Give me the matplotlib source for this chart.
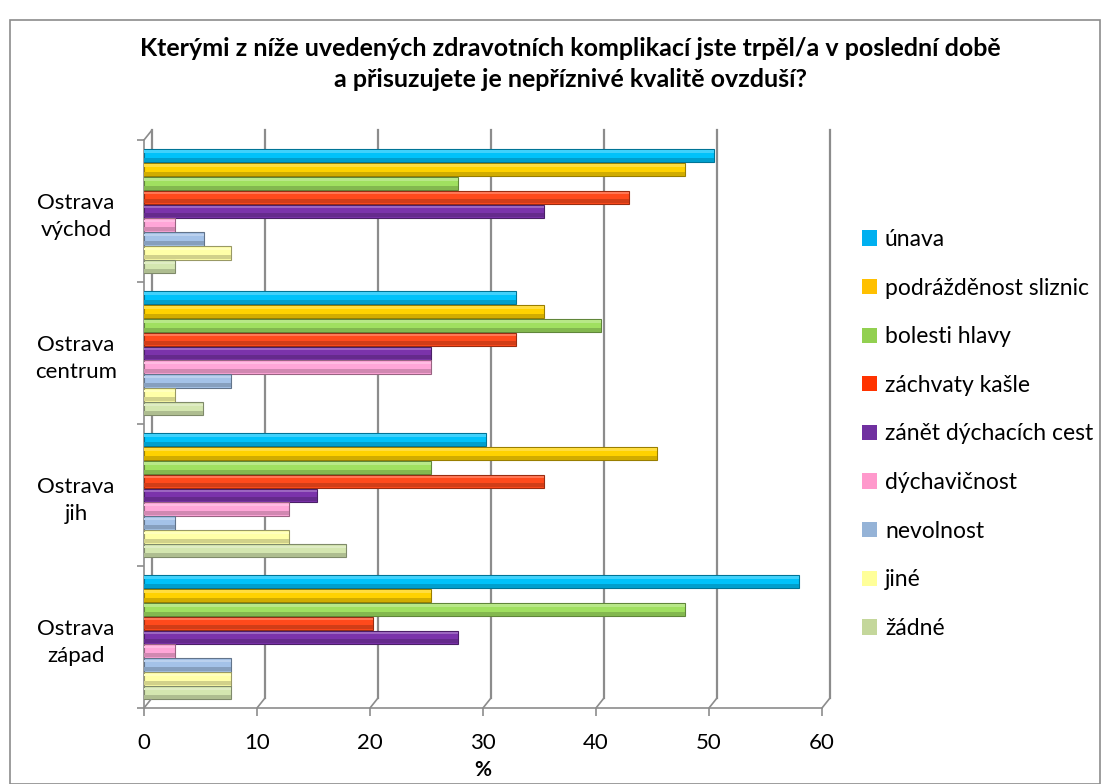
import matplotlib
matplotlib.use("Agg")
import matplotlib.pyplot as plt
import matplotlib.transforms as mtransforms
import numpy as np
from matplotlib.patches import Patch, Rectangle
import matplotlib.colors as mcolors

plt.rcParams['font.family'] = ['Lato', 'DejaVu Sans']

title = "Kterými z níže uvedených zdravotních komplikací jste trpěl/a v poslední době\na přisuzujete je nepříznivé kvalitě ovzduší?"
categories = ["Ostrava\nvýchod", "Ostrava\ncentrum", "Ostrava\njih", "Ostrava\nzápad"]
series = ["únava", "podrážděnost sliznic", "bolesti hlavy", "záchvaty kašle",
          "zánět dýchacích cest", "dýchavičnost", "nevolnost", "jiné", "žádné"]
values = {
    "únava":                [50.4, 32.9, 30.3, 58.0],
    "podrážděnost sliznic": [47.9, 35.4, 45.4, 25.4],
    "bolesti hlavy":        [27.8, 40.4, 25.4, 47.9],
    "záchvaty kašle":       [42.9, 32.9, 35.4, 20.3],
    "zánět dýchacích cest": [35.4, 25.4, 15.3, 27.8],
    "dýchavičnost":         [2.7, 25.4, 12.8, 2.7],
    "nevolnost":            [5.3, 7.7, 2.7, 7.7],
    "jiné":                 [7.7, 2.7, 12.8, 7.7],
    "žádné":                [2.7, 5.2, 17.9, 7.7],
}
bar_colors = ["#00C2FA", "#FFD200", "#A0E060", "#FF4A1C", "#7B33AB",
              "#FFA6D8", "#A4C2E8", "#FFFFA8", "#D4E6B0"]
legend_colors = ["#00B0F0", "#FFC000", "#92D050", "#FF3300", "#7030A0",
                 "#FF99CC", "#95B3D7", "#FFFF99", "#C4D79B"]
xticks = [0, 10, 20, 30, 40, 50, 60]

GRID = "#8C8C8C"
W, H = 1109, 784
fig = plt.figure(figsize=(W / 100, H / 100), dpi=100)
fig.patches.append(Rectangle((10 / W, 0), 1090 / W, 1 - 20 / H, transform=fig.transFigure,
                             fill=False, edgecolor=GRID, linewidth=1.2))

ax = fig.add_axes([144 / W, 1 - 708 / H, (822 - 144) / W, (708 - 140) / H])
slot = 0.098
pos = np.arange(len(categories))
for i, (s, c) in enumerate(zip(series, bar_colors)):
    y = pos - 0.5 + 0.06 + slot * (i + 0.5)
    h = slot * 0.95
    rgb = np.array(mcolors.to_rgb(c))
    edge = rgb * 0.6
    ax.barh(y, values[s], height=h, color=c, edgecolor=edge, linewidth=0.8,
            label=s, zorder=3)
    ax.barh(y + h * 0.32, values[s], height=h * 0.3, color=rgb * 0.82,
            edgecolor="none", zorder=4)
    ax.barh(y - h * 0.3, values[s], height=h * 0.18,
            color=np.clip(rgb + (1 - rgb) * 0.25, 0, 1), edgecolor="none", zorder=4)

ax.set_xlim(0, 60)
ax.set_ylim(len(categories) - 0.5, -0.5)
ax.set_xticks(xticks)
ax.set_xticklabels([str(t) for t in xticks], fontsize=16)
ax.set_xlabel("%", fontsize=15, fontweight="bold", labelpad=5)
ax.tick_params(axis="x", length=6, color=GRID, width=1.2, pad=12)
ax.set_yticks(pos)
ax.set_yticklabels(categories, fontsize=16, ha="center", linespacing=1.45)
ax.tick_params(axis="y", length=0, pad=49)
ax.set_yticks(np.arange(len(categories) + 1) - 0.5, minor=True)
ax.tick_params(axis="y", which="minor", length=5, color=GRID, width=1.2)
for sp in ["top", "right"]:
    ax.spines[sp].set_visible(False)
for sp in ["left", "bottom"]:
    ax.spines[sp].set_color(GRID)
    ax.spines[sp].set_linewidth(1.2)

# pseudo-3D back wall gridlines
off = mtransforms.ScaledTranslation(0.08, 0.10, fig.dpi_scale_trans)
xt = ax.get_xaxis_transform()
for t in xticks:
    ax.plot([t, t], [0, 1], transform=xt + off, color=GRID, linewidth=1.6, zorder=1,
            clip_on=False)
    ax.annotate("", xy=(t, 0), xycoords=xt + off, xytext=(t, 0), textcoords=xt,
                arrowprops=dict(arrowstyle="-", color=GRID, lw=1.2, shrinkA=0, shrinkB=0))
ax.annotate("", xy=(0, 1), xycoords=xt + off, xytext=(0, 1), textcoords=xt,
            arrowprops=dict(arrowstyle="-", color=GRID, lw=1.2, shrinkA=0, shrinkB=0))

fig.text(570 / W, 1 - 64 / H, title, ha="center", va="center", fontsize=18,
         fontweight="bold", linespacing=1.45)

handles = [Patch(facecolor=c, edgecolor="none") for c in legend_colors]
leg = fig.legend(handles, series, loc="upper left", bbox_to_anchor=(862 / W, 1 - 229 / H),
                 frameon=False, fontsize=16.5, handlelength=0.65, handleheight=0.65,
                 handletextpad=0.35, labelspacing=1.205, borderpad=0, borderaxespad=0)

fig.savefig("out.png", dpi=100)
